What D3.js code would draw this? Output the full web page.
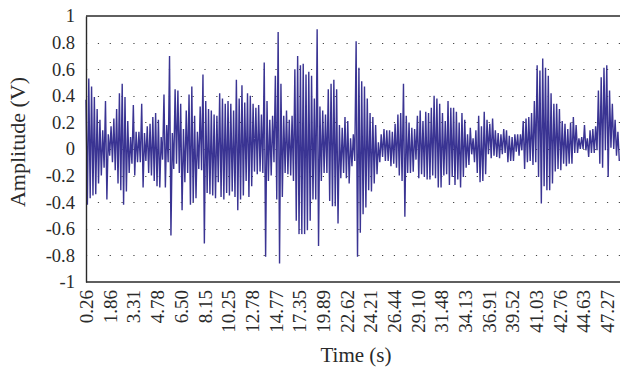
<!DOCTYPE html>
<html>
<head>
<meta charset="utf-8">
<script src="https://cdn.jsdelivr.net/npm/d3@7"></script>
<style>
  html, body { margin: 0; padding: 0; background: #fff; }
  svg { display: block; font-family: 'Liberation Serif', 'Times New Roman', serif; }
</style>
</head>
<body>
<svg id="chart"></svg>
<script>
// amplitude samples (V), left to right in four stretches
const amplitudeA = [
  0.37, -0.42, 0.53, -0.37, 0.47, -0.35, 0.39, -0.34, 0.30, -0.26,
  0.22, -0.20, 0.14, -0.14, 0.36, -0.38, 0.11, -0.05, 0.17, -0.10,
  0.23, -0.16, 0.30, -0.26, 0.42, -0.31, 0.49, -0.42, 0.39, -0.32,
  0.21, -0.18, 0.09, -0.11, 0.33, -0.20, 0.13, -0.10, 0.13, -0.10,
  0.34, -0.29, 0.12, -0.09, 0.17, -0.18, 0.19, -0.20, 0.24, -0.24,
  0.27, -0.28, 0.22, -0.29, 0.09, -0.08, 0.41, -0.29, 0.18, -0.10,
  0.70, -0.65, 0.12, -0.15, 0.45, -0.11, 0.44, -0.18, 0.34, -0.46,
  0.15, -0.25, 0.29, -0.18, 0.41, -0.42, 0.47, -0.40, 0.25, -0.37,
  0.13, -0.15, 0.32, -0.16, 0.56, -0.71, 0.36, -0.33, 0.30, -0.34,
  0.29, -0.35, 0.26, -0.37, 0.25, -0.25
]
const amplitudeB = [
  0.42, -0.36, 0.38, -0.38, 0.34, -0.33, 0.36, -0.35, 0.34, -0.32,
  0.29, -0.36, 0.52, -0.46, 0.38, -0.38, 0.48, -0.35, 0.35, -0.24,
  0.42, -0.36, 0.40, -0.28, 0.34, -0.17, 0.31, -0.19, 0.33, -0.17,
  0.26, -0.18, 0.65, -0.81, 0.36, -0.24, 0.22, -0.20, 0.25, -0.10,
  0.55, -0.38, 0.88, -0.86, 0.49, -0.36, 0.25, -0.18, 0.29, -0.19,
  0.22, -0.20, 0.25, -0.24, 0.60, -0.54, 0.70, -0.64, 0.63, -0.64,
  0.64, -0.64, 0.56, -0.61, 0.58, -0.54, 0.55, -0.38, 0.38, -0.38,
  0.90, -0.73, 0.32, -0.24, 0.29, -0.18, 0.26, -0.18, 0.45, -0.39,
  0.49, -0.43, 0.52, -0.43, 0.45, -0.56, 0.18, -0.22, 0.16, -0.18,
  0.24, -0.22, 0.21, -0.26, 0.08, -0.13
]
const amplitudeC = [
  0.11, -0.09, 0.81, -0.81, 0.61, -0.63, 0.51, -0.49, 0.47, -0.44,
  0.38, -0.31, 0.27, -0.32, 0.24, -0.26, 0.18, -0.19, 0.05, -0.10,
  0.11, -0.06, 0.15, -0.09, 0.14, -0.09, 0.14, -0.13, 0.13, -0.11,
  0.19, -0.14, 0.26, -0.20, 0.27, -0.24, 0.49, -0.51, 0.25, -0.18,
  0.20, -0.18, 0.16, -0.17, 0.15, -0.08, 0.25, -0.22, 0.29, -0.19,
  0.21, -0.21, 0.28, -0.23, 0.27, -0.23, 0.31, -0.20, 0.40, -0.22,
  0.38, -0.29, 0.34, -0.29, 0.27, -0.20, 0.21, -0.19, 0.36, -0.27,
  0.31, -0.21, 0.31, -0.27, 0.28, -0.23, 0.20, -0.29, 0.27, -0.21,
  0.22, -0.14, 0.11, -0.12, 0.16, -0.04, 0.08, -0.10, 0.14, -0.18,
  0.25, -0.25, 0.17, -0.24, 0.28, -0.19
]
const amplitudeD = [
  0.22, -0.04, 0.19, -0.07, 0.23, -0.05, 0.14, -0.06, 0.12, -0.07,
  0.11, -0.04, 0.15, -0.03, 0.14, -0.10, 0.10, -0.09, 0.09, -0.09,
  0.11, -0.02, 0.11, -0.05, 0.11, -0.01, 0.21, -0.15, 0.23, -0.10,
  0.24, -0.09, 0.27, -0.12, 0.36, -0.10, 0.63, -0.21, 0.59, -0.41,
  0.68, -0.28, 0.61, -0.31, 0.55, -0.31, 0.42, -0.26, 0.34, -0.17,
  0.34, -0.15, 0.30, -0.16, 0.21, -0.11, 0.19, -0.13, 0.15, -0.11,
  0.20, -0.11, 0.24, -0.03, 0.18, -0.03, 0.08, 0.00, 0.09, 0.00,
  0.18, -0.01, 0.08, -0.06, 0.14, -0.03, 0.15, -0.03, 0.17, -0.01,
  0.44, -0.11, 0.54, -0.14, 0.61, -0.01, 0.63, -0.21, 0.44, 0.01,
  0.34, 0.00, 0.22, -0.05, 0.13, -0.09
]

// one time label for every 17 samples
const timeLabels = ['0.26', '1.86', '3.31', '4.78', '6.50', '8.15', '10.25', '12.78',
  '14.77', '17.35', '19.89', '22.62', '24.21', '26.44', '29.10', '31.48', '34.13',
  '36.91', '39.52', '41.03', '42.76', '44.63', '47.27']
const labelStep = 17

const yTicks = [1, 0.8, 0.6, 0.4, 0.2, 0, -0.2, -0.4, -0.6, -0.8, -1]
const yLabels = ['1', '0.8', '0.6', '0.4', '0.2', '0', '-0.2', '-0.4', '-0.6', '-0.8', '-1']
const gridValues = [0.8, 0.6, 0.4, 0.2, 0, -0.2, -0.4, -0.6, -0.8]

const w = 620
const h = 368
const padL = 86
const padT = 16
const padB = 282
const padR = 619.3
const ink = '#2a2a2a'

const data = amplitudeA.concat(amplitudeB, amplitudeC, amplitudeD)

const svg = d3.select('#chart').attr('width', w).attr('height', h)

const x = d3.scaleLinear().domain([0, data.length - 1]).range([padL, padR])
const y = d3.scaleLinear().domain([-1, 1]).range([padB, padT])

// dotted grid
svg
  .append('g')
  .selectAll('line')
  .data(gridValues)
  .enter()
  .append('line')
  .attr('x1', padL)
  .attr('x2', w)
  .attr('y1', (d) => Math.round(y(d)) + 0.5)
  .attr('y2', (d) => Math.round(y(d)) + 0.5)
  .attr('stroke', '#444')
  .attr('stroke-width', 1.2)
  .attr('stroke-dasharray', '1.2,10.64')

// signal
const line = d3
  .line()
  .x((d, i) => x(i))
  .y((d) => y(d))

svg
  .append('path')
  .datum(data)
  .attr('fill', 'none')
  .attr('stroke', '#3a3493')
  .attr('stroke-width', 1.4)
  .attr('d', line)

// top frame line
svg
  .append('line')
  .attr('x1', padL)
  .attr('x2', w)
  .attr('y1', padT)
  .attr('y2', padT)
  .attr('stroke', ink)
  .attr('stroke-width', 1.4)

// y axis
const yaxis = d3
  .axisLeft(y)
  .tickValues(yTicks)
  .tickFormat((d, i) => yLabels[i])
  .tickSize(0)
  .tickPadding(11)

const gy = svg.append('g').attr('transform', `translate(${padL}, 0)`).call(yaxis)
gy.select('.domain').attr('stroke', ink).attr('stroke-width', 1.4)
gy.selectAll('text')
  .attr('font-size', 18.5)
  .attr('fill', ink)
  .attr('font-family', "'Liberation Serif', serif")

// x axis
const xaxis = d3
  .axisBottom(x)
  .tickValues(timeLabels.map((_, i) => i * labelStep))
  .tickFormat((d, i) => timeLabels[i])
  .tickSize(0)

const gx = svg.append('g').attr('transform', `translate(0, ${padB})`).call(xaxis)
gx.select('.domain').attr('stroke', ink).attr('stroke-width', 1.4).attr('d', `M${padL},0H${w}`)
gx.selectAll('text')
  .attr('font-size', 19)
  .attr('fill', ink)
  .attr('font-family', "'Liberation Serif', serif")
  .attr('transform', 'rotate(-90)')
  .attr('x', -8)
  .attr('y', 0)
  .attr('dy', '0.35em')
  .style('text-anchor', 'end')

// titles
svg
  .append('text')
  .attr('x', 356)
  .attr('y', 362)
  .attr('text-anchor', 'middle')
  .attr('font-size', 21)
  .attr('fill', ink)
  .text('Time (s)')

svg
  .append('text')
  .attr('transform', 'translate(25, 142) rotate(-90)')
  .attr('text-anchor', 'middle')
  .attr('font-size', 22)
  .attr('fill', ink)
  .text('Amplitude (V)')
</script>
</body>
</html>
